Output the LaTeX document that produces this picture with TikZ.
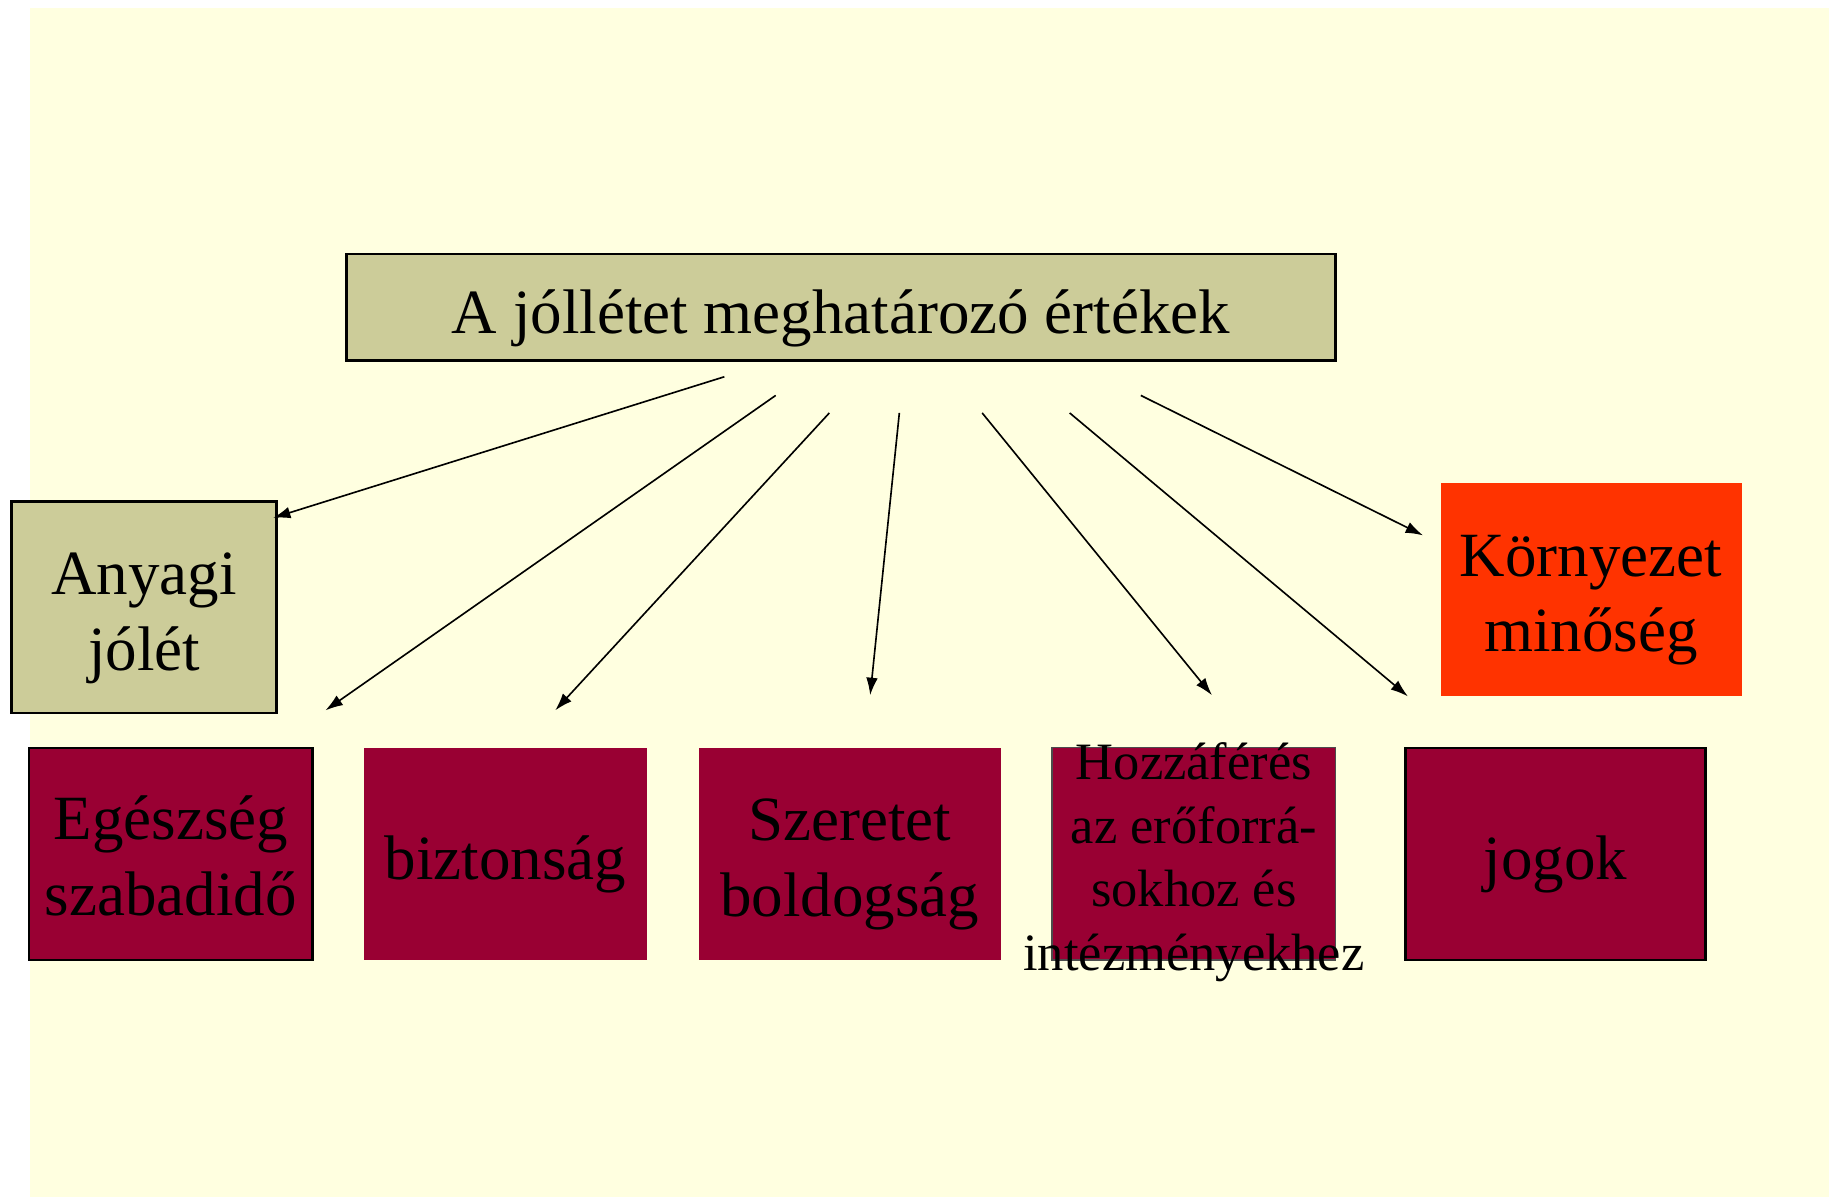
\documentclass[tikz,border=0pt]{standalone}
\usepackage{fontspec}
\setmainfont{Liberation Serif}
\usetikzlibrary{arrows.meta}
\definecolor{hatter}{HTML}{FFFFE0}
\definecolor{khaki}{HTML}{CCCC99}
\definecolor{bordo}{HTML}{990033}
\definecolor{narancs}{HTML}{FF3300}
\tikzset{
  felirat/.style={inner sep=0pt, align=center, font=\fontsize{27}{32.5}\selectfont},
  kisfelirat/.style={felirat, font=\fontsize{22.5}{27.2}\selectfont},
  olajbox/.style={inner sep=0pt, fill=khaki, draw=black, line width=1pt},
  bordobox/.style={inner sep=0pt, fill=bordo, minimum height=91pt},
  keret/.style={draw=black, line width=1pt},
  nyil/.style={-{Latex[length=7.5pt,width=5pt]}, line width=0.7pt}
}
\begin{document}
\begin{tikzpicture}[x=0.5pt, y=-0.5pt]
        \useasboundingbox (0,0) rectangle (1568,1026);
        \fill[hatter] (26,7) rectangle (1568,1026);
        % top
        \node[olajbox, minimum width=424pt, minimum height=45.5pt] (ertekek) at (721,263.5) {};
        \node[felirat] (ertekek-t) at (721,273) {A jóllétet meghatározó értékek};
        \node[olajbox, minimum width=113.5pt, minimum height=90.5pt] (anyagi) at (123.5,520.5) {};
        \node[felirat] (anyagi-t) at (123.5,530) {Anyagi\\jólét};
        \node[inner sep=0pt, fill=narancs, minimum width=129pt, minimum height=91.5pt] (kornyezet) at (1364,505.5) {};
        \node[felirat] (kornyezet-t) at (1364,514.5) {Környezet\\minőség};
        % row
        \node[bordobox, keret, minimum width=121.5pt] (egeszseg) at (146.5,732) {};
        \node[felirat] (egeszseg-t) at (146.5,734) {Egészség\\szabadidő};
        \node[bordobox, minimum width=121.5pt] (biztonsag) at (433.5,732) {};
        \node[felirat] (biztonsag-t) at (433.5,741) {biztonság};
        \node[bordobox, minimum width=129.5pt] (szeretet) at (728.5,732) {};
        \node[felirat] (szeretet-t) at (728.5,741) {Szeretet\\boldogság};
        \node[bordobox, draw=black!70, line width=0.6pt, minimum width=121.5pt] (hozzaferes) at (1023.5,732) {};
        \node[kisfelirat] (hozzaferes-t) at (1023.5,739) {Hozzáférés\\az erőforrá-\\sokhoz és\\intézményekhez};
        \node[bordobox, keret, minimum width=128.5pt] (jogok) at (1333.5,732) {};
        \node[felirat] (jogok-t) at (1333.5,741) {jogok};
        % arrows
        \coordinate (k1) at (621,323);  \coordinate (v1) at (234,444);
        \coordinate (k2) at (665,339);  \coordinate (v2) at (279,609);
        \coordinate (k3) at (711,354);  \coordinate (v3) at (476,609);
        \coordinate (k4) at (771,354);  \coordinate (v4) at (746,596);
        \coordinate (k5) at (842,354);  \coordinate (v5) at (1039,596);
        \coordinate (k6) at (917,354);  \coordinate (v6) at (1207,597);
        \coordinate (k7) at (978,339);  \coordinate (v7) at (1220,459);
        \foreach \i in {1,...,7}
            \draw[nyil] (k\i) -- (v\i);
    \end{tikzpicture}
\end{document}
